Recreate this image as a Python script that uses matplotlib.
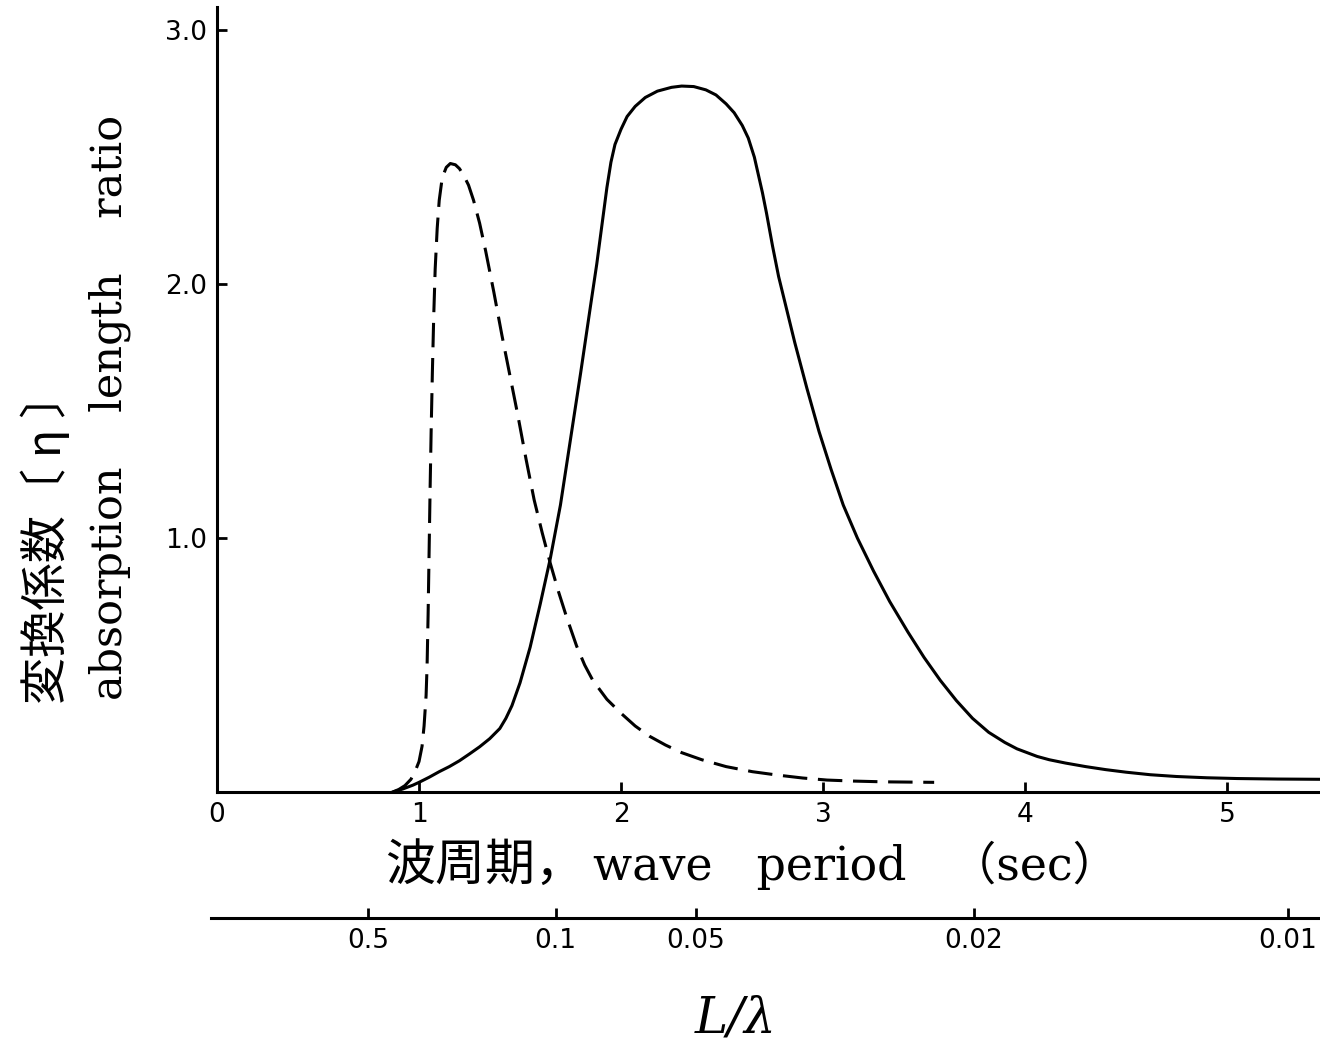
import numpy as np
import matplotlib
matplotlib.use('Agg')
import matplotlib.pyplot as plt

# values: wave period T (sec) and conversion coefficient eta
period_solid = [0.87, 0.92, 0.97, 1.0, 1.05, 1.1, 1.15, 1.2, 1.25, 1.3, 1.35, 1.4, 1.43,
                1.46, 1.5, 1.55, 1.6, 1.65, 1.7, 1.75, 1.8, 1.85, 1.88, 1.91, 1.93, 1.95,
                1.97, 2.0, 2.03, 2.07, 2.12, 2.18, 2.25, 2.3, 2.36, 2.42, 2.47, 2.52,
                2.56, 2.6, 2.63, 2.66, 2.68, 2.7, 2.72, 2.75, 2.78, 2.82, 2.86, 2.92,
                2.98, 3.04, 3.1, 3.17, 3.25, 3.33, 3.42, 3.5, 3.58, 3.66, 3.74, 3.82,
                3.9, 3.96, 4.0, 4.06, 4.12, 4.2, 4.3, 4.4, 4.5, 4.62, 4.75, 4.9, 5.05,
                5.25, 5.46]
eta_solid = [0.0, 0.012, 0.027, 0.038, 0.058, 0.08, 0.1, 0.123, 0.15, 0.178, 0.21, 0.25, 0.29,
             0.34, 0.43, 0.57, 0.74, 0.92, 1.13, 1.39, 1.65, 1.92, 2.08, 2.26, 2.38, 2.48,
             2.55, 2.61, 2.66, 2.7, 2.735, 2.76, 2.775, 2.78, 2.778, 2.765, 2.745, 2.71,
             2.675, 2.625, 2.575, 2.5, 2.43, 2.36, 2.28, 2.15, 2.03, 1.9, 1.77, 1.59,
             1.42, 1.27, 1.13, 1.0, 0.87, 0.75, 0.63, 0.53, 0.44, 0.36, 0.29, 0.235,
             0.195, 0.17, 0.158, 0.14, 0.127, 0.114, 0.1, 0.088, 0.078, 0.068, 0.061, 0.056, 0.053,
             0.051, 0.05]

period_dash = [0.87, 0.9, 0.93, 0.96, 0.98, 1.0, 1.015, 1.025, 1.035, 1.04, 1.045, 1.05,
               1.055, 1.06, 1.066, 1.073, 1.08, 1.09, 1.1, 1.115, 1.135, 1.155, 1.18, 1.2,
               1.22, 1.245, 1.27, 1.3, 1.33, 1.37, 1.41, 1.45, 1.49, 1.53, 1.57, 1.61,
               1.65, 1.69, 1.73, 1.78, 1.82, 1.86, 1.93, 2.0, 2.07, 2.14, 2.22, 2.3, 2.4,
               2.52, 2.65, 2.77, 2.9, 3.02, 3.15, 3.3, 3.55]
eta_dash = [0.0, 0.01, 0.025, 0.05, 0.08, 0.12, 0.18, 0.26, 0.38, 0.5, 0.7, 0.95,
            1.2, 1.42, 1.65, 1.88, 2.06, 2.22, 2.33, 2.42, 2.46, 2.475, 2.47, 2.455,
            2.43, 2.39, 2.33, 2.24, 2.13, 1.97, 1.8, 1.64, 1.48, 1.31, 1.15, 1.02,
            0.9, 0.79, 0.69, 0.575, 0.5, 0.44, 0.365, 0.31, 0.26, 0.22, 0.185, 0.155, 0.127,
            0.1, 0.08, 0.067, 0.055, 0.047, 0.043, 0.04, 0.038]

period_ticks = [0, 1, 2, 3, 4, 5]
eta_ticks = [1.0, 2.0, 3.0]
ratio_ticks = [0.5, 0.1, 0.05, 0.02, 0.01]
ratio_labels = ['0.5', '0.1', '0.05', '0.02', '0.01']
scale_c = 0.53  # T = c / sqrt(L/lambda)

cjk = ['Noto Sans CJK JP', 'DejaVu Serif']
serif = ['DejaVu Serif', 'Noto Sans CJK JP']

fig = plt.figure(figsize=(13.2, 10.49), dpi=100)
ax = fig.add_axes([0.1644, 0.245, 0.8356, 0.748])
ax.plot(period_solid, eta_solid, color='black', lw=2.2)
ax.plot(period_dash, eta_dash, color='black', lw=2.2, dashes=(8, 3.5))
ax.set_xlim(0, 5.46)
ax.set_ylim(0, 3.09)
ax.spines[['top', 'right']].set_visible(False)
for s in ['left', 'bottom']:
    ax.spines[s].set_linewidth(2.2)
ax.set_xticks(period_ticks)
ax.set_xticklabels([str(t) for t in period_ticks])
ax.set_yticks(eta_ticks)
ax.set_yticklabels(['%.1f' % v for v in eta_ticks])
ax.tick_params(direction='in', length=7, width=2, labelsize=19, pad=7)

# second scale, L/lambda
ax2 = fig.add_axes([0.1598, 0.125, 0.8402, 0.001])
ax2.set_xlim(-0.03, 5.46)
ax2.patch.set_visible(False)
for s in ['top', 'right', 'left']:
    ax2.spines[s].set_visible(False)
ax2.spines['bottom'].set_linewidth(2.2)
ax2.set_yticks([])
ax2.set_xticks(scale_c / np.sqrt(np.array(ratio_ticks)))
ax2.set_xticklabels(ratio_labels)
ax2.tick_params(axis='x', direction='in', length=7, width=2, labelsize=19, pad=7)

# labels
fig.text(0.036, 0.329, '変換係数〔 η 〕', rotation=90, ha='center', va='bottom',
         fontsize=34, family=cjk)
fig.text(0.083, 0.333, 'absorption    length    ratio', rotation=90, ha='center',
         va='bottom', fontsize=31, family=serif)
fig.text(0.292, 0.175, '波周期，', ha='left', va='center', fontsize=36, family=cjk)
fig.text(0.449, 0.175, 'wave   period   （sec）', ha='left', va='center',
         fontsize=33, family=serif)
fig.text(0.557, 0.029, 'L/λ', ha='center', va='center', fontsize=36,
         family='DejaVu Serif', style='italic')

fig.savefig('out.png', dpi=100)
